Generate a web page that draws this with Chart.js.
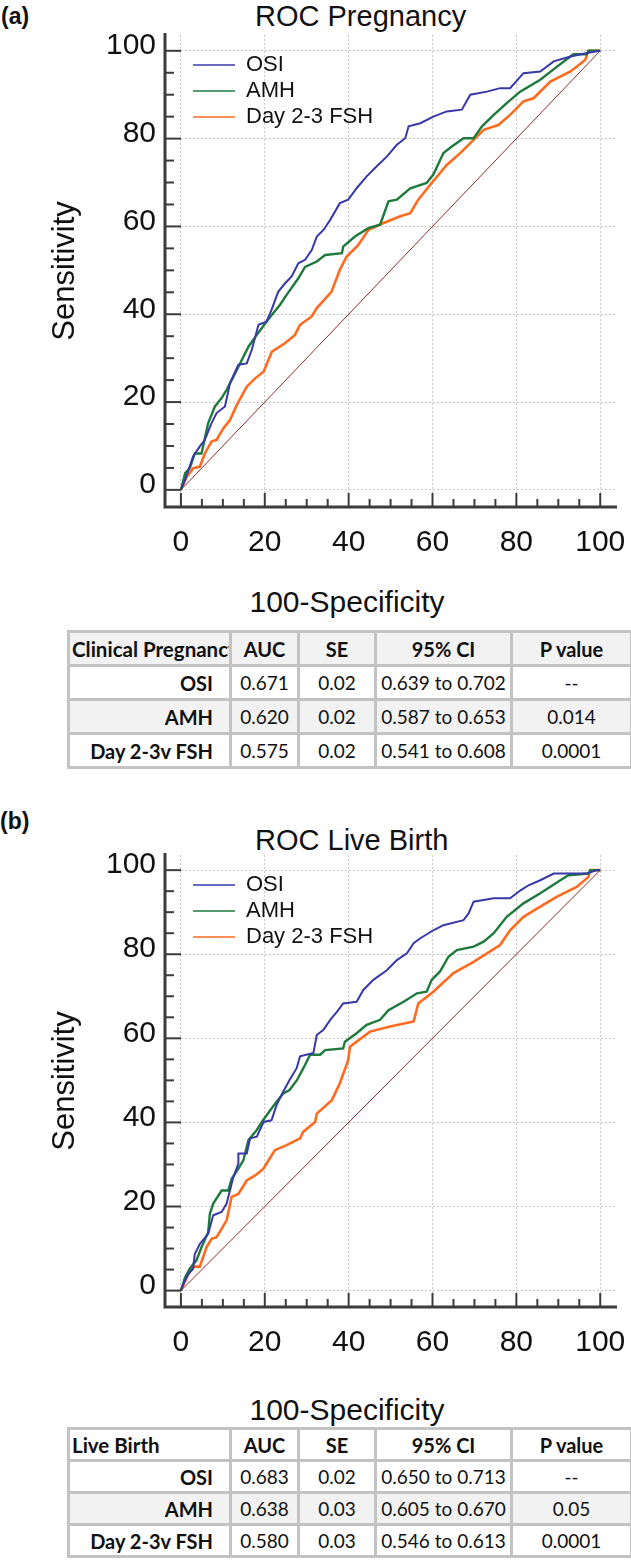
<!DOCTYPE html>
<html>
<head>
<meta charset="utf-8">
<script src="https://cdn.jsdelivr.net/npm/chart.js@4.4.1/dist/chart.umd.min.js"></script>
<style>
  body { margin: 0; width: 631px; height: 1564px; position: relative; overflow: hidden; background: #fff;
         font-family: 'Liberation Sans', Arial, sans-serif; color: #111; }
  .abs { position: absolute; white-space: nowrap; }
  .panel { font-weight: bold; font-size: 23px; line-height: 23px; }
  .title { font-size: 29px; line-height: 29px; }
  .xlab { font-size: 30px; line-height: 30px; width: 300px; text-align: center; }
  canvas { position: absolute; left: 0; }
  table.stats { position: absolute; left: 67px; border-collapse: collapse; table-layout: fixed; width: 563px;
                font-family: Lato, 'Open Sans', sans-serif; font-size: 19px; color: #111; }
  table.stats td { border: 3px solid #c3c3c3; padding: 0 3px; text-align: center; white-space: nowrap; overflow: hidden; }
  table.stats tr { height: 34px; }
  table.stats.tight tr { height: 32px; }
  table.stats td.lbl { text-align: right; padding-right: 16px; font-weight: bold; font-size: 20px; }
  table.stats tr.head td { font-weight: bold; font-size: 20px; }
  table.stats tr.head td.cap { text-align: left; padding-left: 2px; font-size: 20.5px; }
  table.stats tr.shade td { background: #f2f2f2; }
</style>
</head>
<body>

<div class="abs panel" style="left:1px;top:5px">(a)</div>
<div class="abs title" style="left:255px;top:2px">ROC Pregnancy</div>
<canvas id="rocPregnancy" width="631" height="570" style="top:0"></canvas>
<div class="abs xlab" style="left:197px;top:587px">100-Specificity</div>
<table class="stats" id="tablePregnancy" style="top:630px"></table>

<div class="abs panel" style="left:0px;top:810px">(b)</div>
<div class="abs title" style="left:255px;top:826px">ROC Live Birth</div>
<canvas id="rocLiveBirth" width="631" height="550" style="top:820px"></canvas>
<div class="abs xlab" style="left:197px;top:1395px">100-Specificity</div>
<table class="stats tight" id="tableLiveBirth" style="top:1427px; border-bottom:3px solid #000"></table>

<script>
// tick positions (percent)
const majorTicks = [0, 20, 40, 60, 80, 100];
const minorTicks = [0, 5, 10, 15, 20, 25, 30, 35, 40, 45, 50, 55, 60, 65, 70, 75, 80, 85, 90, 95, 100];

// ROC curves: [100-specificity, sensitivity]
const osiPregnancy = [[0,0],[1,2.3],[2.9,7.6],[4.5,9.9],[5.7,11.4],[7.3,15.2],[8.5,17.5],[10.5,19],[11.7,24.3],[13.7,28.5],
  [15.7,28.8],[16.9,31.9],[18.5,37.6],[20.4,38.3],[21.6,41],[23.2,45.1],[24.8,47],[26.4,48.6],[28,51.6],[29.6,52.4],
  [31.2,54.6],[32.4,57.7],[34,59.2],[35.6,61.5],[37.9,65.3],[39.9,66.1],[41.9,68.7],[44.3,71.4],[46.7,73.7],[49.1,75.9],
  [51.5,78.6],[53.5,80.1],[54.3,82.8],[57.1,83.5],[60.2,85],[63.4,86.2],[67,86.6],[69,90],[73,90.7],[76.1,91.5],
  [78.5,91.5],[81.7,94.9],[85.7,95.3],[88.9,97.6],[92.9,98.7],[96.8,99.5],[100,100]];
const amhPregnancy = [[0,0],[1,3.8],[2.1,4.9],[3.3,8.3],[4.9,8.3],[6.5,15.2],[8.1,19],[9.7,20.9],[10.9,22.8],[12.1,25],
  [14.1,28.8],[16.1,32.6],[18.1,35.3],[20.4,38.3],[22,40.2],[23.6,42.1],[25.2,44.4],[28,48.2],[29.6,50.8],[32.4,52],
  [34.4,53.5],[38.4,53.9],[38.7,55.4],[41.5,57.7],[44.7,59.6],[47.5,60.4],[49.5,65.7],[51.5,66.1],[54.7,68.7],[58.6,69.9],
  [60.2,71.8],[62.6,76.7],[64.6,78.2],[67.4,80.1],[69.8,80.1],[71.8,82.8],[74.6,85.4],[77.7,88.1],[80.9,90.7],[85.7,93.4],
  [89.7,96.4],[93.6,99.2],[96.8,99.2],[97.2,100],[100,100]];
const fshPregnancy = [[0,0],[1.4,3],[2.9,4.9],[4.5,5.3],[5.7,8.3],[7.3,11],[8.5,11.4],[10.1,14],[11.7,15.9],[13.3,19.3],
  [15.7,23.5],[17.7,25.4],[19.7,26.9],[21.7,31.5],[24.8,33.4],[27.2,35.3],[28.4,37.6],[31.2,39.5],[32.4,41.4],[35.9,45.1],
  [37.9,50.1],[39.5,53.1],[42.3,55.8],[44.7,59.2],[47.9,60.6],[52.3,62.3],[54.7,63],[56.6,66.1],[59.8,69.9],[63.4,74],
  [66.6,76.7],[69.8,79.7],[72.2,82],[75.7,83.1],[78.5,85.4],[81.7,88.5],[84.1,89.2],[88.1,93],[92.9,95.3],[96.4,97.9],
  [97.2,100],[100,100]];

const osiLiveBirth = [[0,0],[0.6,1.6],[1.8,4],[2.9,5.2],[3.3,8.7],[4.5,11.1],[6.5,13.5],[7.7,17.9],[9.7,18.7],[10.9,20.7],
  [12.5,27],[13.7,30.2],[13.7,32.6],[15.7,32.6],[16.5,36.2],[18.1,36.6],[19.7,40.1],[21.6,40.5],[22.8,44.1],[24.4,47.3],
  [25.9,50.1],[27.6,52.9],[28.4,55.7],[31.6,56.5],[32.4,60.8],[34,62],[35.6,64.4],[37.2,66.3],[38.7,68.3],[41.9,68.7],
  [43.5,71.5],[45.9,73.9],[49.1,76.2],[51.5,78.6],[53.9,80.2],[55.5,82.6],[57.1,83.8],[60.2,85.7],[62.6,86.9],[67.4,88.1],
  [68.6,89.7],[69.8,92.5],[74.6,93.3],[78.5,93.3],[81,95.2],[82.9,96.4],[85.7,97.6],[88.9,99.2],[96.8,99.2],[99.2,100],[100,100]];
const amhLiveBirth = [[0,0],[1,3.2],[2.1,5.2],[3.7,7.2],[4.9,10.3],[6.5,13.9],[6.9,18.3],[7.7,20.7],[9.7,23.8],[11.3,23.8],
  [12.1,26.6],[13.7,29],[14.9,31],[16.1,35.8],[18.1,38.2],[19.3,40.1],[21.3,42.9],[22.8,44.9],[24.4,46.9],[25.9,47.7],
  [27.7,50.1],[29.2,52.9],[30.8,56.1],[33.2,56.1],[34.4,57.2],[38.7,57.6],[39.1,59.2],[41.9,61.2],[44.3,63.2],[47.5,64.4],
  [49.5,66.7],[53.1,68.7],[56.3,70.7],[58.6,71.1],[59.8,73.9],[61.8,75.9],[63.8,79.4],[65.8,81],[69.8,81.8],[72.2,83],
  [74.6,85],[77.7,88.9],[81.7,92.1],[85.7,94.5],[90.5,97.6],[92.4,98.8],[97.2,99.2],[97.6,100],[100,100]];
const fshLiveBirth = [[0,0],[1.4,3.2],[2.9,5.7],[4.5,5.7],[6.1,10.3],[7.3,12.3],[8.5,12.7],[10.9,16.7],[12.1,22.3],[13.7,23],
  [15.7,26.2],[17.7,27.4],[19.7,29],[20.9,31],[22.4,33.4],[25.2,34.6],[28.4,36.2],[29.2,37.8],[32,40.1],[32.4,42.1],
  [36,45.3],[37.9,49.3],[39.9,54.8],[40.3,58],[45.1,61.6],[49.9,62.8],[55.5,64],[56.6,68.3],[60.2,71.1],[65,75.5],
  [69.8,78.2],[76.1,82.2],[78.5,85.7],[81.7,88.9],[85.7,91.3],[89.7,93.7],[94.4,96],[97.2,98.4],[97.6,100],[100,100]];

const chanceLine = [[0,0],[100,100]];

// summary tables
const predictors = ['OSI', 'AMH', 'Day 2-3v FSH'];
const tableColumns = ['AUC', 'SE', '95% CI', 'P value'];
const pregnancyAUC = ['0.671', '0.620', '0.575'];
const pregnancySE = ['0.02', '0.02', '0.02'];
const pregnancyCI = ['0.639 to 0.702', '0.587 to 0.653', '0.541 to 0.608'];
const pregnancyP = ['--', '0.014', '0.0001'];
const liveBirthAUC = ['0.683', '0.638', '0.580'];
const liveBirthSE = ['0.02', '0.03', '0.03'];
const liveBirthCI = ['0.650 to 0.713', '0.605 to 0.670', '0.546 to 0.613'];
const liveBirthP = ['--', '0.05', '0.0001'];

Chart.defaults.font.family = "'Liberation Sans', Arial, sans-serif";
Chart.defaults.color = '#111';

const toXY = pts => pts.map(p => ({ x: p[0], y: p[1] }));

// offset axis lines with major / minor ticks pointing into the plot
const axisFrame = {
  id: 'axisFrame',
  afterDraw(chart) {
    const { ctx, chartArea: a, scales: { x, y } } = chart;
    ctx.save();
    ctx.strokeStyle = '#3c3c3c';
    ctx.lineWidth = 3;
    ctx.beginPath();
    ctx.moveTo(a.left, a.top - 2);
    ctx.lineTo(a.left, a.bottom);
    ctx.lineTo(a.right, a.bottom);
    ctx.stroke();
    ctx.lineWidth = 2;
    minorTicks.forEach(v => {
      const major = majorTicks.includes(v);
      const py = y.getPixelForValue(v);
      ctx.beginPath();
      ctx.moveTo(a.left, py);
      ctx.lineTo(a.left + (major ? 16 : 9), py);
      ctx.stroke();
      const px = x.getPixelForValue(v);
      ctx.beginPath();
      ctx.moveTo(px, a.bottom);
      ctx.lineTo(px, a.bottom - (major ? 14 : 8));
      ctx.stroke();
    });
    ctx.restore();
  }
};

// put the legend inside the plot, clear of the axis
const legendNudge = {
  id: 'legendNudge',
  afterLayout(chart) {
    const l = chart.legend, a = chart.chartArea;
    const w = l.right - l.left, h = l.bottom - l.top;
    l.left = a.left + 24; l.right = l.left + w;
    l.top = a.top + 15; l.bottom = l.top + h;
  }
};

function buildRoc(id, osi, amh, fsh) {
  return new Chart(document.getElementById(id), {
    type: 'line',
    data: {
      datasets: [
        { label: 'OSI', data: toXY(osi), borderColor: '#3838a8', borderWidth: 2 },
        { label: 'AMH', data: toXY(amh), borderColor: '#1e7a3c', borderWidth: 2.4 },
        { label: 'Day 2-3 FSH', data: toXY(fsh), borderColor: '#ff6a1f', borderWidth: 2.6 },
        { label: 'chance', data: toXY(chanceLine), borderColor: '#8e2b2b', borderWidth: 1 }
      ]
    },
    options: {
      responsive: false,
      animation: false,
      elements: { point: { radius: 0 }, line: { tension: 0, fill: false } },
      layout: { padding: { top: 35, right: 14, bottom: 13, left: 0 } },
      scales: {
        x: {
          type: 'linear', min: -3.8, max: 104,
          afterBuildTicks: s => { s.ticks = majorTicks.map(v => ({ value: v })); },
          afterFit: s => { s.height = 50; s.paddingLeft = 0; s.paddingRight = 0; },
          grid: { color: '#c6c6c6', drawTicks: false },
          border: { display: false, dash: [2, 2] },
          ticks: { font: { size: 30 }, color: '#111', padding: 18, maxRotation: 0, autoSkip: false }
        },
        y: {
          min: -3.9, max: 103.6,
          afterBuildTicks: s => { s.ticks = majorTicks.map(v => ({ value: v })); },
          afterFit: s => { s.width = 165; s.paddingTop = 0; s.paddingBottom = 0; },
          grid: { color: '#c6c6c6', drawTicks: false },
          border: { display: false, dash: [2, 2] },
          ticks: { font: { size: 30 }, color: '#111', padding: 9, labelOffset: -5, autoSkip: false },
          title: { display: true, text: 'Sensitivity', font: { size: 31 }, color: '#111', padding: { top: 47, bottom: 0 } }
        }
      },
      plugins: {
        legend: {
          position: 'chartArea',
          align: 'start',
          labels: {
            usePointStyle: true,
            pointStyle: 'line',
            pointStyleWidth: 42,
            padding: 4,
            color: '#111',
            font: { size: 22 },
            filter: item => item.datasetIndex < 3,
            generateLabels: chart => Chart.defaults.plugins.legend.labels.generateLabels(chart)
              .map(item => Object.assign(item, { lineWidth: 1.3 }))
          }
        },
        tooltip: { enabled: false }
      }
    },
    plugins: [axisFrame, legendNudge]
  });
}

function buildTable(id, caption, auc, se, ci, p, shadeHead) {
  const widths = [162, 68, 77, 136, 120];
  let html = '<colgroup>' + widths.map(w => '<col style="width:' + w + 'px">').join('') + '</colgroup>';
  html += '<tr class="head' + (shadeHead ? ' shade' : '') + '"><td class="cap">' + caption + '</td>' +
    tableColumns.map(c => '<td>' + c + '</td>').join('') + '</tr>';
  predictors.forEach((name, i) => {
    html += '<tr' + (i === 1 ? ' class="shade"' : '') + '><td class="lbl">' + name + '</td><td>' + auc[i] + '</td><td>' +
      se[i] + '</td><td>' + ci[i] + '</td><td>' + p[i] + '</td></tr>';
  });
  document.getElementById(id).innerHTML = html;
}

buildRoc('rocPregnancy', osiPregnancy, amhPregnancy, fshPregnancy);
buildRoc('rocLiveBirth', osiLiveBirth, amhLiveBirth, fshLiveBirth);
buildTable('tablePregnancy', 'Clinical Pregnancy', pregnancyAUC, pregnancySE, pregnancyCI, pregnancyP, true);
buildTable('tableLiveBirth', 'Live Birth', liveBirthAUC, liveBirthSE, liveBirthCI, liveBirthP, false);
</script>
</body>
</html>
